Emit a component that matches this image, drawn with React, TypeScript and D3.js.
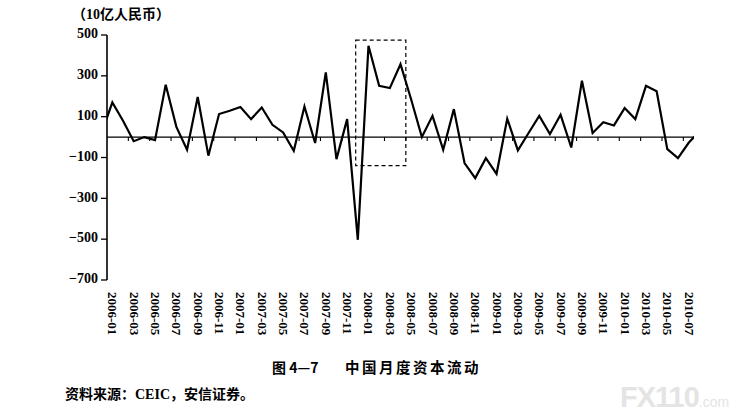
import React, { useEffect, useRef } from "react";
import * as d3 from "d3";

// months on the category axis (2006-01 .. 2010-07)
const months = [
  "2006-01", "2006-02", "2006-03", "2006-04", "2006-05", "2006-06", "2006-07", "2006-08", "2006-09", "2006-10", "2006-11", "2006-12",
  "2007-01", "2007-02", "2007-03", "2007-04", "2007-05", "2007-06", "2007-07", "2007-08", "2007-09", "2007-10", "2007-11", "2007-12",
  "2008-01", "2008-02", "2008-03", "2008-04", "2008-05", "2008-06", "2008-07", "2008-08", "2008-09", "2008-10", "2008-11", "2008-12",
  "2009-01", "2009-02", "2009-03", "2009-04", "2009-05", "2009-06", "2009-07", "2009-08", "2009-09", "2009-10", "2009-11", "2009-12",
  "2010-01", "2010-02", "2010-03", "2010-04", "2010-05", "2010-06", "2010-07",
];

// monthly capital flow, 10 bn RMB
const flows = [
  170, 80, -20, 0, -15, 256, 50, -62, 196, -91, 113, 129,
  147, 88, 145, 60, 23, -67, 150, -29, 317, -108, 88, -503,
  447, 251, 240, 357, 184, 0, 104, -62, 137, -127, -201, -103,
  -180, 90, -65, 20, 104, 15, 109, -51, 276, 20, 73, 57,
  142, 88, 251, 224, -59, -103, -28,
];

// the line runs off both ends of the plot (clipped at the axis edges)
const prevFlow = 20; // 2005-12
const nextFlow = 28; // 2010-08

const tickLabels = [
  "2006-01", "2006-03", "2006-05", "2006-07", "2006-09", "2006-11",
  "2007-01", "2007-03", "2007-05", "2007-07", "2007-09", "2007-11",
  "2008-01", "2008-03", "2008-05", "2008-07", "2008-09", "2008-11",
  "2009-01", "2009-03", "2009-05", "2009-07", "2009-09", "2009-11",
  "2010-01", "2010-03", "2010-05", "2010-07",
];

const yTicks = [500, 300, 100, -100, -300, -500, -700];

// highlighted window (month index span, value span)
const boxMonths = [22.8, 27.5];
const boxValues = [-140, 475];

const serif = "'Liberation Serif', 'Times New Roman', serif";
const cjk = "'Noto Sans CJK SC', sans-serif";

const App: React.FC = () => {
  const svgRef = useRef<SVGSVGElement>(null);

  useEffect(() => {
    if (!svgRef.current) return;
    const svg = d3.select(svgRef.current);
    svg.selectAll("*").remove();

    const left = 107;
    const right = 694;
    const top = 35;
    const bottom = 280;

    const x = d3.scaleLinear().domain([-0.5, months.length - 0.5]).range([left, right]);
    const y = d3.scaleLinear().domain([-700, 500]).range([bottom, top]);

    svg
      .append("defs")
      .append("clipPath")
      .attr("id", "plot-clip")
      .append("rect")
      .attr("x", left)
      .attr("y", 0)
      .attr("width", right - left)
      .attr("height", 416);

    // zero line with small ticks every two months
    svg
      .append("line")
      .attr("x1", left)
      .attr("x2", right)
      .attr("y1", y(0))
      .attr("y2", y(0))
      .attr("stroke", "#000")
      .attr("stroke-width", 1.1);

    tickLabels.forEach((m) => {
      const i = months.indexOf(m);
      if (i <= 0) return;
      svg
        .append("line")
        .attr("x1", x(i - 0.5))
        .attr("x2", x(i - 0.5))
        .attr("y1", y(0))
        .attr("y2", y(0) + 4)
        .attr("stroke", "#000")
        .attr("stroke-width", 1.1);
    });

    // y axis
    svg
      .append("line")
      .attr("x1", left)
      .attr("x2", left)
      .attr("y1", y(500))
      .attr("y2", y(-700))
      .attr("stroke", "#000")
      .attr("stroke-width", 1.6);

    yTicks.forEach((v) => {
      svg
        .append("line")
        .attr("x1", left - 6)
        .attr("x2", left)
        .attr("y1", y(v))
        .attr("y2", y(v))
        .attr("stroke", "#000")
        .attr("stroke-width", 1.3);
      svg
        .append("text")
        .attr("x", left - 9)
        .attr("y", y(v))
        .attr("text-anchor", "end")
        .attr("dominant-baseline", "middle")
        .style("font-family", serif)
        .style("font-weight", "bold")
        .style("font-size", "14px")
        .text(v < 0 ? `\u2212${-v}` : `${v}`);
    });

    // x labels, rotated
    tickLabels.forEach((m) => {
      const i = months.indexOf(m);
      const lx = x(i) - 1;
      const ly = 292;
      svg
        .append("text")
        .attr("x", lx)
        .attr("y", ly)
        .attr("transform", `rotate(90, ${lx}, ${ly})`)
        .attr("dominant-baseline", "middle")
        .style("font-family", serif)
        .style("font-weight", "bold")
        .style("font-size", "13px")
        .text(m);
    });

    // data line
    const pts: [number, number][] = [
      [x(-1), y(prevFlow)],
      ...flows.map((v, i) => [x(i), y(v)] as [number, number]),
      [x(months.length), y(nextFlow)],
    ];
    svg
      .append("path")
      .attr("d", d3.line()(pts) || "")
      .attr("clip-path", "url(#plot-clip)")
      .attr("fill", "none")
      .attr("stroke", "#000")
      .attr("stroke-width", 2.2)
      .attr("stroke-linejoin", "miter");

    // dashed highlight box
    svg
      .append("rect")
      .attr("x", x(boxMonths[0]))
      .attr("y", y(boxValues[1]))
      .attr("width", x(boxMonths[1]) - x(boxMonths[0]))
      .attr("height", y(boxValues[0]) - y(boxValues[1]))
      .attr("fill", "none")
      .attr("stroke", "#000")
      .attr("stroke-width", 1.2)
      .attr("stroke-dasharray", "4,3");

    // unit label
    svg
      .append("text")
      .attr("x", 72)
      .attr("y", 16)
      .attr("dominant-baseline", "middle")
      .style("font-family", `${serif}, ${cjk}`)
      .style("font-weight", "bold")
      .style("font-size", "14px")
      .text("（10亿人民币）");

    // caption
    svg
      .append("text")
      .attr("x", 272)
      .attr("y", 369)
      .attr("dominant-baseline", "middle")
      .style("font-family", cjk)
      .style("font-weight", "bold")
      .style("font-size", "14px")
      .text("图 4—7");

    svg
      .append("text")
      .attr("x", 345)
      .attr("y", 369)
      .attr("dominant-baseline", "middle")
      .style("font-family", cjk)
      .style("font-weight", "bold")
      .style("font-size", "14.5px")
      .style("letter-spacing", "2.5px")
      .text("中国月度资本流动");

    // source
    svg
      .append("text")
      .attr("x", 65)
      .attr("y", 396)
      .attr("dominant-baseline", "middle")
      .style("font-family", `${serif}, ${cjk}`)
      .style("font-weight", "bold")
      .style("font-size", "14px")
      .text("资料来源：CEIC，安信证券。");

    // faint watermark
    const wm = svg.append("text").attr("x", 620).attr("y", 407).style("fill", "#e4e4e4");
    wm.append("tspan")
      .style("font-family", "'Liberation Sans', sans-serif")
      .style("font-weight", "bold")
      .style("font-size", "29px")
      .style("letter-spacing", "-1px")
      .text("FX110");
    wm.append("tspan")
      .style("font-family", "'Liberation Sans', sans-serif")
      .style("font-size", "14px")
      .text(".com");
  }, []);

  return (
    <div style={{ position: "fixed", left: 0, top: 0, width: 754, height: 416, background: "#fff" }}>
      <svg ref={svgRef} width={754} height={416} style={{ display: "block" }} />
    </div>
  );
};

export default App;
